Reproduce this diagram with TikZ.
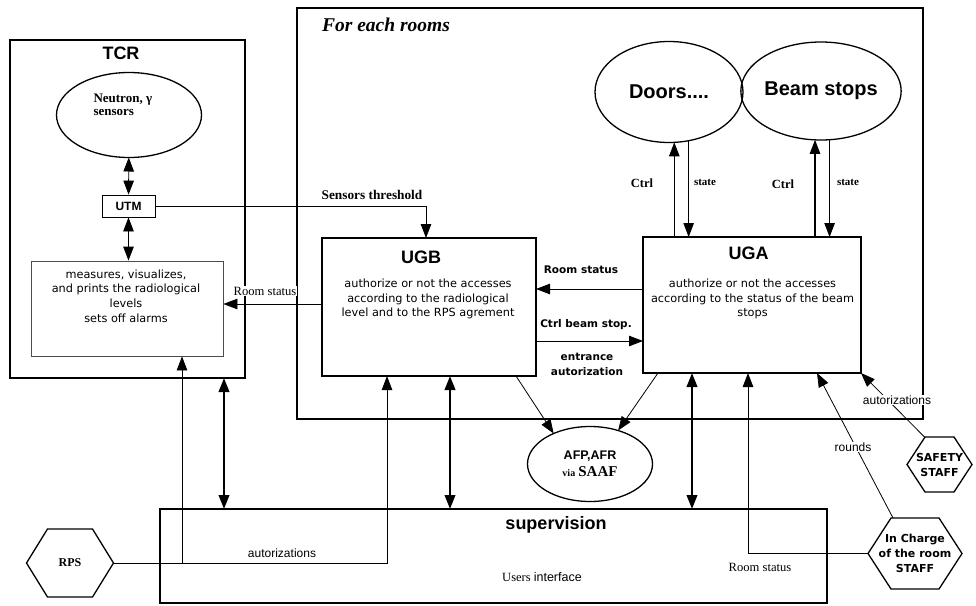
\documentclass[tikz,border=0pt]{standalone}
\usepackage{fontspec}
\setmainfont{Liberation Serif}
\setsansfont{Liberation Sans}
\newfontfamily\dvsans{DejaVu Sans}
\usetikzlibrary{arrows.meta,shapes.geometric}

\newcommand{\hexframe}[2]{%
  \draw [line width=1.3pt] (#1.west) -- ([xshift=#2]#1.north west) -- ([xshift=-#2]#1.north east)
    -- (#1.east) -- ([xshift=-#2]#1.south east) -- ([xshift=#2]#1.south west) -- cycle;}

\begin{document}
\begin{tikzpicture}[x=1pt,y=-1pt,
  >={Triangle[length=14pt,width=10.5pt]},
  frame/.style={draw, line width=1.8pt, inner sep=0pt, outer sep=0pt},
  oval/.style={draw, ellipse, line width=1.3pt, inner sep=0pt, outer sep=0pt},
  hexa/.style={inner sep=0pt, outer sep=0pt, align=center, font=\dvsans\bfseries\fontsize{11}{15}\selectfont},
  title/.style={font=\sffamily\bfseries\fontsize{18}{20}\selectfont},
  body/.style={align=center, font=\dvsans\fontsize{11.3}{14.6}\selectfont},
  boldlbl/.style={align=center, font=\dvsans\bfseries\fontsize{10.5}{15.5}\selectfont},
  serlbl/.style={font=\bfseries\fontsize{12.5}{14}\selectfont},
  plainlbl/.style={font=\sffamily\fontsize{12}{14}\selectfont},
  thin/.style={line width=0.8pt},
  ctrl/.style={line width=1.2pt},
  bus/.style={line width=2.2pt}]

\useasboundingbox (0,0) rectangle (976,605);

% frames
\node [frame, line width=2.8pt, minimum width=626pt, minimum height=411pt] (rooms) at (610,213.5) {};
\node [frame, minimum width=235pt, minimum height=338pt] (tcr) at (127.5,209) {};
\node [frame, line width=1.5pt, minimum width=667pt, minimum height=94pt] (sup) at (493.5,556) {};

% TCR side
\node [title] (tcrt) at (121,53) {TCR};
\node [oval, minimum width=145pt, minimum height=85pt] (sens) at (129,115) {};
\node [anchor=west, align=left, font=\bfseries\fontsize{13}{13.5}\selectfont] (senst) at (90,105) {Neutron, γ\\sensors};
\node [draw, thin, minimum width=53pt, minimum height=22pt, inner sep=0pt, font=\sffamily\bfseries\fontsize{12}{14}\selectfont] (utm) at (128.5,206) {UTM};
\node [draw, thin, draw=black!70, minimum width=192pt, minimum height=95pt] (meas) at (127,308.5) {};
\node [body] (meast) at (126,296) {measures, visualizes,\\and prints the radiological\\levels\\sets off alarms};

% one room
\node [font=\bfseries\itshape\fontsize{19.5}{22}\selectfont] (roomst) at (386,25) {For each rooms};
\node [oval, minimum width=148pt, minimum height=101pt, font=\sffamily\bfseries\fontsize{20}{22}\selectfont] (doors) at (669,92) {Doors....};
\node [oval, minimum width=148pt, minimum height=98pt, font=\sffamily\bfseries\fontsize{20}{22}\selectfont] (beam) at (821,91) {Beam stops};
\node [frame, minimum width=214pt, minimum height=138pt] (ugb) at (429,307) {};
\node [title] (ugbt) at (421,257) {UGB};
\node [body] (ugbx) at (428,299) {authorize or not the accesses\\according to the radiological\\level and to the RPS agrement};
\node [frame, minimum width=218pt, minimum height=136pt] (uga) at (752,305) {};
\node [title] (ugat) at (748.5,253) {UGA};
\node [body] (ugax) at (752.5,299) {authorize or not the accesses\\according to the status of the beam\\stops};
\node [oval, minimum width=125pt, minimum height=75pt, align=center, font=\bfseries\fontsize{12.5}{17}\selectfont] (afp) at (590,464) {{\sffamily AFP,AFR}\\{\fontsize{10}{17}\selectfont via} {\fontsize{15}{17}\selectfont SAAF}};

% supervision and staff
\node [title] (supt) at (556,525) {supervision};
\node [font=\fontsize{12.5}{14}\selectfont] (supx) at (542,577) {Users {\sffamily interface}};
\node [font=\fontsize{12.6}{14}\selectfont] (supr) at (760,567) {Room status};
\node [hexa, minimum width=87pt, minimum height=68pt, font=\rmfamily\bfseries\fontsize{12}{14}\selectfont] (rps) at (70,563) {RPS};
\node [hexa, minimum width=65pt, minimum height=55pt] (safety) at (939.5,464.5) {SAFETY\\STAFF};
\node [hexa, minimum width=94pt, minimum height=71pt] (charge) at (915,553.5) {In Charge\\of the room\\STAFF};
\hexframe{rps}{21pt}
\hexframe{safety}{18pt}
\hexframe{charge}{23pt}

% helper points
\coordinate (rsb) at ([yshift=3pt]ugb.west);
\coordinate (rsa) at ([yshift=16pt]uga.west);
\coordinate (cbs) at ([yshift=-34pt]ugb.east);
\coordinate (tbus) at ([xshift=96.5pt]tcr.south);
\coordinate (bbus) at ([xshift=21pt]ugb.south);
\coordinate (abus) at ([xshift=-60pt]uga.south);
\coordinate (rpsb) at ([xshift=-42pt]ugb.south);
\coordinate (rpsm) at ([xshift=55pt]meas.south);
\coordinate (chg) at ([xshift=-4pt]uga.south);

% links
\draw [thin,<->] (sens) -- (utm);
\draw [thin,<->] (utm.south) -- (utm.south |- meas.north);
\draw [thin,->] (utm.east) -| ([xshift=-3pt]ugb.north);
\draw [thin,->] (rsb) -- (rsb -| meas.east);
\draw [thin,->] (rsa) -- (rsa -| ugb.east);
\draw [thin,->] (cbs) -- (cbs -| uga.west);
\draw [ctrl,->] (uga.north -| doors.-84) -- (doors.-84);
\draw [thin,->] (doors.-68) -- (doors.-68 |- uga.north);
\draw [ctrl,->] (uga.north -| beam.-97) -- (beam.-97);
\draw [thin,->] (beam.-80) -- (beam.-80 |- uga.north);
\draw [thin,->] ([xshift=-20pt]ugb.south east) -- (afp.140);
\draw [thin,->] ([xshift=15pt]uga.south west) -- (afp.50);
\draw [bus,<->] (tbus) -- (tbus |- sup.north);
\draw [bus,<->] (bbus) -- (bbus |- sup.north);
\draw [bus,<->] (abus) -- (abus |- sup.north);
\draw [thin,->] (rps.east) -| (rpsb);
\draw [thin,->] (rpsm |- rps.east) -- (rpsm);
\draw [thin,->] (charge.west) -| (chg);
\draw [thin,->] ([xshift=-22pt]charge.north) -- ([xshift=-44pt]uga.south east);
\draw [thin,->] ([xshift=-15pt]safety.north) -- (uga.south east);

% labels
\node [serlbl, font=\bfseries\fontsize{13.3}{15}\selectfont] (sthr) at (372,195) {Sensors threshold};
\node [fill=white, inner sep=1pt, font=\fontsize{12.6}{14}\selectfont] (rstl) at (265,291) {Room status};
\node [boldlbl] (rsl) at (581,270) {Room status};
\node [boldlbl] (cbl) at (586,325) {Ctrl beam stop.};
\node [boldlbl] (eal) at (587,364.5) {entrance\\autorization};
\node [serlbl] (dctl) at (642,183) {Ctrl};
\node [serlbl, font=\bfseries\fontsize{11}{12}\selectfont] (dstl) at (705,182) {state};
\node [serlbl] (bctl) at (783,184) {Ctrl};
\node [serlbl, font=\bfseries\fontsize{11}{12}\selectfont] (bstl) at (848,182) {state};
\node [plainlbl] (rpsl) at (282,553) {autorizations};
\node [plainlbl, fill=white, inner sep=1pt] (rndl) at (853,447) {rounds};
\node [plainlbl, fill=white, inner sep=1pt] (safl) at (897,400) {autorizations};
\end{tikzpicture}
\end{document}
